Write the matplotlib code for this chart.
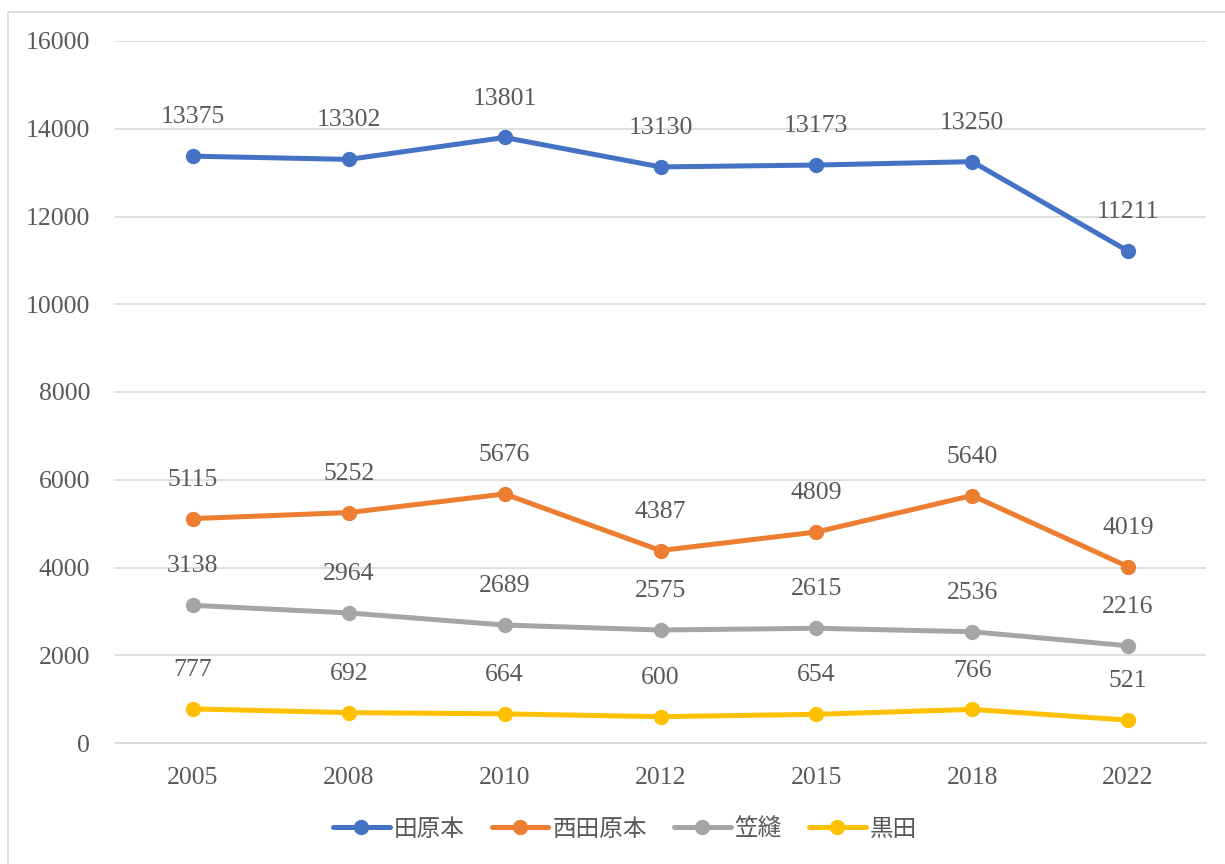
import matplotlib.pyplot as plt
from matplotlib.patches import Rectangle

years = ["2005", "2008", "2010", "2012", "2015", "2018", "2022"]
series_names = ["田原本", "西田原本", "笠縫", "黒田"]
tawaramoto = [13375, 13302, 13801, 13130, 13173, 13250, 11211]
nishi_tawaramoto = [5115, 5252, 5676, 4387, 4809, 5640, 4019]
kasanui = [3138, 2964, 2689, 2575, 2615, 2536, 2216]
kuroda = [777, 692, 664, 600, 654, 766, 521]
colors = ["#4472C4", "#ED7D31", "#A5A5A5", "#FFC000"]
y_ticks = [0, 2000, 4000, 6000, 8000, 10000, 12000, 14000, 16000]

TEXT = "#595959"
NUM_FONT = ["Liberation Serif", "DejaVu Serif"]
JP_FONT = ["Noto Sans CJK JP", "DejaVu Sans"]
FS = 18.5


def main():
    fig = plt.figure(figsize=(12.25, 8.64), dpi=100)
    # light outer frame like the Excel chart area
    fig.patches.append(Rectangle((8 / 1225, -0.01), 1.1, 1 - 12 / 864 + 0.01,
                                 transform=fig.transFigure, fill=False,
                                 edgecolor="#D9D9D9", linewidth=1.2))

    ax = fig.add_axes([115 / 1225, 1 - 743 / 864, 1091 / 1225, 702 / 864])
    x = list(range(len(years)))

    all_series = [tawaramoto, nishi_tawaramoto, kasanui, kuroda]
    for name, values, color in zip(series_names, all_series, colors):
        ax.plot(x, values, color=color, linewidth=3.6, marker="o",
                markersize=10, label=name, solid_capstyle="round", zorder=3)
        for xi, v in zip(x, values):
            ax.annotate(str(v), (xi, v), xytext=(0, 28), textcoords="offset points",
                        ha="center", va="center", fontsize=FS, color=TEXT,
                        family=NUM_FONT)

    ax.set_xlim(-0.5, len(years) - 0.5)
    ax.set_ylim(0, 16000)
    ax.set_yticks(y_ticks)
    ax.set_yticklabels([str(t) for t in y_ticks], family=NUM_FONT, fontsize=FS, color=TEXT)
    ax.set_xticks(x)
    ax.set_xticklabels(years, family=NUM_FONT, fontsize=FS, color=TEXT)
    ax.tick_params(axis="both", length=0)
    ax.tick_params(axis="y", pad=18)
    ax.tick_params(axis="x", pad=17)
    ax.grid(axis="y", color="#D9D9D9", linewidth=1.2)
    ax.set_axisbelow(True)
    for side in ["top", "right", "left"]:
        ax.spines[side].set_visible(False)
    ax.spines["bottom"].set_color("#D9D9D9")
    ax.spines["bottom"].set_linewidth(1.2)

    leg = fig.legend(loc="center", bbox_to_anchor=(625 / 1225, 1 - 829 / 864), ncol=4,
                     frameon=False, prop={"family": JP_FONT, "size": 17},
                     handlelength=2.4, handletextpad=0.17, columnspacing=1.15)
    for t in leg.get_texts():
        t.set_color(TEXT)

    fig.savefig("out.png", dpi=100)


if __name__ == "__main__":
    main()
